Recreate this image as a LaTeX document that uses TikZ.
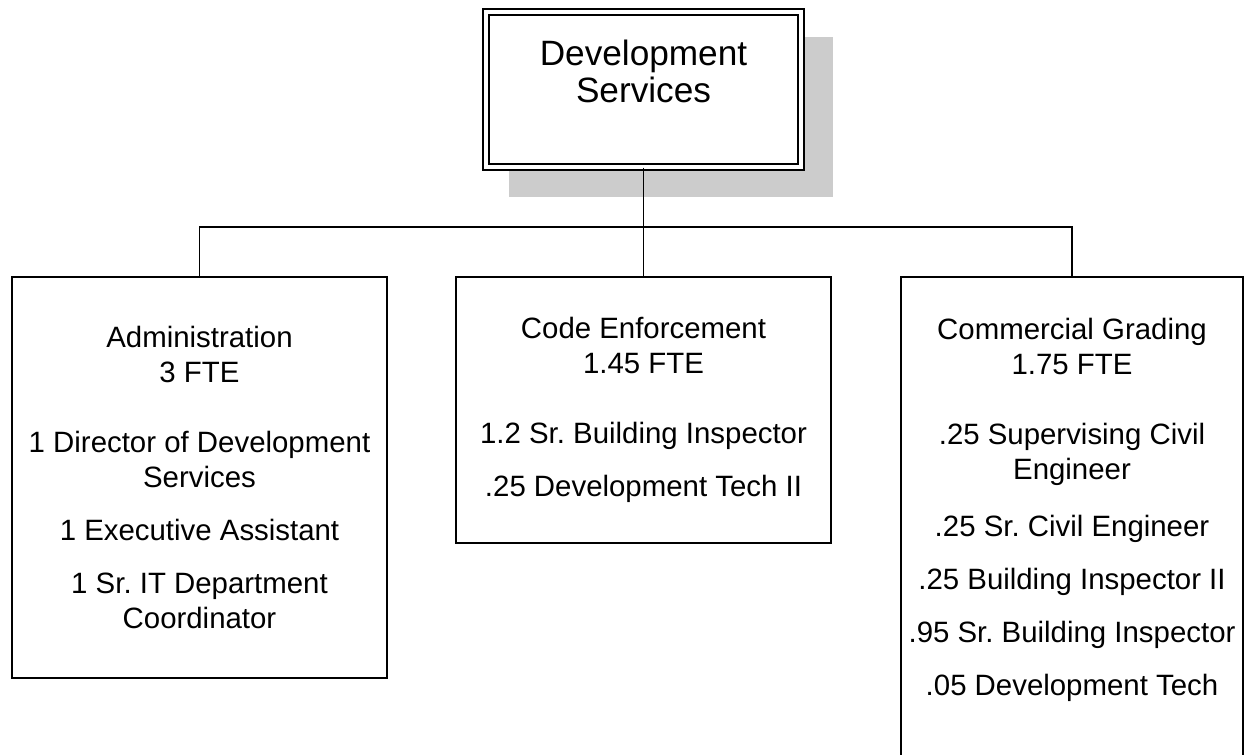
\documentclass[tikz,border=0pt]{standalone}
\usepackage{fontspec}
\setmainfont{Liberation Sans}
\frenchspacing
\usetikzlibrary{shadows}

\begin{document}
\begin{tikzpicture}[x=0.5pt,y=-0.5pt,
  wire/.style={line width=0.9pt},
  unitbox/.style={draw,line width=0.75pt,fill=white,align=center,inner sep=0pt,
    font=\fontsize{14.7}{17.5}\selectfont},
  headbox/.style={draw,double,line width=0.6pt,double distance=2.4pt,fill=white,
    align=center,inner sep=0pt,minimum width=157.5pt,minimum height=77.5pt,
    font=\fontsize{17.6}{18.5}\selectfont,
    drop shadow={shadow xshift=13.25pt,shadow yshift=-13.25pt,
      shadow scale=1.03,fill=black!20,opacity=1}}]
\useasboundingbox (0,0) rectangle (1249,755);

\node[headbox] (dev) at (643.5,89.5) {Development\\Services\\\mbox{}};

\node[unitbox,minimum width=187.5pt,minimum height=200.5pt] (adm) at (199.5,477.5)
  {Administration\\3 FTE\\[17.5pt]1 Director of Development\\Services\\[9pt]%
   1 Executive Assistant\\[9pt]1 Sr. IT Department\\Coordinator};
\node[unitbox,minimum width=187.5pt,minimum height=133pt] (ce) at (643.5,410)
  {Code Enforcement\\1.45 FTE\\[17.5pt]1.2 Sr. Building Inspector\\[9pt]%
   .25 Development Tech II};
\node[unitbox,minimum width=171pt,minimum height=247.5pt] (cg) at (1072,524.5)
  {Commercial Grading\\1.75 FTE\\[17.5pt].25 Supervising Civil\\Engineer\\[11pt]%
   .25 Sr. Civil Engineer\\[9pt].25 Building Inspector II\\[9pt]%
   .95 Sr. Building Inspector\\[9pt].05 Development Tech\\\mbox{}};

\coordinate (bus) at (643.5,227);
\draw[wire] (dev.south) -- (ce.north);
\draw[wire] (adm.north) |- (bus) -| (cg.north);
\end{tikzpicture}
\end{document}
